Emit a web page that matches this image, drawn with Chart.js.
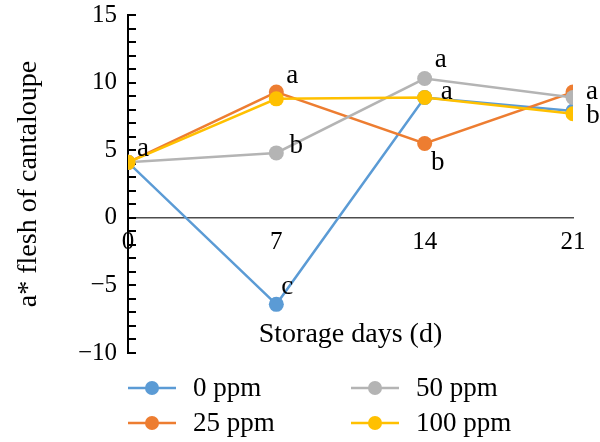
<!DOCTYPE html>
<html>
<head>
<meta charset="utf-8">
<script src="https://cdn.jsdelivr.net/npm/chart.js@4.4.0/dist/chart.umd.min.js"></script>
<style>
  html, body { margin: 0; padding: 0; background: #fff; }
</style>
</head>
<body>
<canvas id="aChart" width="600" height="442"></canvas>
<script>
// storage days and a* values
const days = [0, 7, 14, 21];
const seriesNames = ['0 ppm', '25 ppm', '50 ppm', '100 ppm'];
const ppm0 = [4.1, -6.4, 8.9, 7.9];
const ppm25 = [4.1, 9.3, 5.5, 9.3];
const ppm50 = [4.1, 4.8, 10.3, 8.9];
const ppm100 = [4.1, 8.8, 8.9, 7.7];
// significance letters (null = no letter shown)
const letters0 = [null, 'c', null, null];
const letters25 = [null, 'a', 'b', 'a'];
const letters50 = [null, 'b', 'a', null];
const letters100 = ['a', null, 'a', 'b'];
const yMin = -10;
const yMax = 15;

const colors = ['#5B9BD5', '#ED7D31', '#B4B4B4', '#FFC000'];
const allValues = [ppm0, ppm25, ppm50, ppm100];
const allLetters = [letters0, letters25, letters50, letters100];
const serif = "'Liberation Serif', 'DejaVu Serif', serif";

// where each letter sits relative to its point
const letterOffsets = {
  '3-0': [15, -13],
  '1-1': [16, -16],
  '2-1': [20, -7],
  '0-1': [11, -17],
  '2-2': [16, -19],
  '3-2': [22, -6],
  '1-2': [13, 19],
  '1-3': [19, 0],
  '3-3': [20, 2]
};

function minus(v) {
  return v < 0 ? '\u2212' + Math.abs(v) : String(v);
}

const extras = {
  id: 'extras',
  beforeDatasetsDraw(chart) {
    const ctx = chart.ctx;
    const y = chart.scales.y;
    const x0 = chart.chartArea.left;
    ctx.save();
    ctx.strokeStyle = '#000';
    ctx.lineWidth = 2;
    y.ticks.forEach(t => {
      const py = Math.round(y.getPixelForValue(t.value));
      ctx.beginPath();
      ctx.moveTo(x0, py);
      ctx.lineTo(x0 + 8, py);
      ctx.stroke();
    });
    ctx.restore();
  },
  afterDatasetsDraw(chart) {
    const ctx = chart.ctx;
    ctx.save();
    ctx.fillStyle = '#000';
    ctx.font = '27px ' + serif;
    ctx.textAlign = 'center';
    ctx.textBaseline = 'middle';
    allLetters.forEach((list, s) => {
      const meta = chart.getDatasetMeta(s);
      list.forEach((letter, i) => {
        if (!letter) return;
        const pt = meta.data[i];
        const off = letterOffsets[s + '-' + i] || [14, -14];
        ctx.fillText(letter, pt.x + off[0], pt.y + off[1]);
      });
    });

    // legend, two columns
    const area = chart.chartArea;
    const cols = [area.left, area.left + 223];
    const rows = [area.bottom + 35, area.bottom + 70];
    ctx.textAlign = 'left';
    ctx.font = '27px ' + serif;
    seriesNames.forEach((name, s) => {
      const lx = cols[Math.floor(s / 2)];
      const ly = rows[s % 2];
      ctx.strokeStyle = colors[s];
      ctx.lineWidth = 2.5;
      ctx.beginPath();
      ctx.moveTo(lx, ly);
      ctx.lineTo(lx + 48, ly);
      ctx.stroke();
      ctx.fillStyle = colors[s];
      ctx.beginPath();
      ctx.arc(lx + 24, ly, 7, 0, Math.PI * 2);
      ctx.fill();
      ctx.fillStyle = '#000';
      ctx.fillText(name, lx + 65, ly + 1);
    });
    ctx.restore();
  }
};

const datasets = allValues.map((vals, s) => ({
  label: seriesNames[s],
  data: days.map((d, i) => ({ x: d, y: vals[i] })),
  borderColor: colors[s],
  backgroundColor: colors[s],
  borderWidth: 2.5,
  pointRadius: 7.5,
  pointBorderWidth: 0,
  pointBackgroundColor: colors[s],
  tension: 0,
  order: 3 - s
}));

const aChart = new Chart(document.getElementById('aChart'), {
  type: 'line',
  data: { datasets: datasets },
  options: {
    responsive: false,
    animation: false,
    layout: { padding: { top: 15, right: 27, bottom: 89, left: 0 } },
    plugins: {
      legend: { display: false },
      tooltip: { enabled: false }
    },
    scales: {
      x: {
        type: 'linear',
        min: 0,
        max: 21,
        position: { y: 0 },
        grid: { display: false, drawTicks: false },
        border: { color: '#4D4D4D', width: 1.5 },
        ticks: {
          stepSize: 7,
          padding: 10,
          color: '#000',
          font: { family: serif, size: 25 }
        },
        title: {
          display: true,
          text: 'Storage days (d)',
          color: '#000',
          font: { family: serif, size: 28 },
          padding: { top: 50, bottom: 0 }
        }
      },
      y: {
        min: yMin,
        max: yMax,
        grid: { display: false, drawTicks: false },
        border: { color: '#000', width: 2 },
        ticks: {
          stepSize: 1,
          autoSkip: false,
          padding: 11,
          color: '#000',
          font: { family: serif, size: 25 },
          callback: v => (v % 5 === 0 ? minus(v) : '')
        },
        title: {
          display: true,
          text: 'a* flesh of cantaloupe',
          color: '#000',
          font: { family: serif, size: 28 },
          padding: { top: 12, bottom: 0 }
        },
        afterFit: scale => {
          scale.width = 128;
          scale.paddingTop = 0;
          scale.paddingBottom = 0;
        }
      }
    }
  },
  plugins: [extras]
});
</script>
</body>
</html>
